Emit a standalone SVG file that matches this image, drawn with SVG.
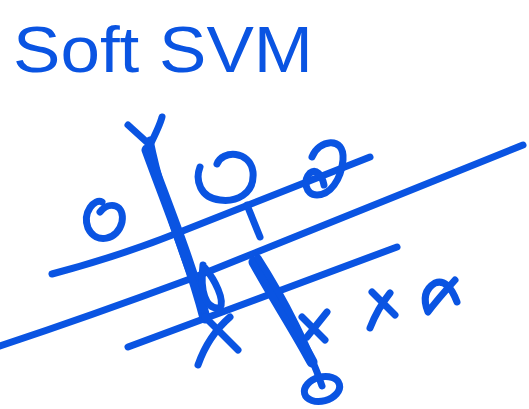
<svg xmlns="http://www.w3.org/2000/svg" width="529" height="409" viewBox="0 0 529 409">
<style>
.s{fill:none;stroke:#0a54e2;stroke-width:7;stroke-linecap:round;stroke-linejoin:round}
.t{stroke-width:11}
.title{font-family:"Liberation Sans",Arial,sans-serif;font-size:64px;fill:#0a54e2}
</style>
<rect width="529" height="409" fill="#fff"/>
<text class="title" x="13" y="72" textLength="300" lengthAdjust="spacingAndGlyphs">Soft SVM</text>
<g id="lines">
<path class="s" d="M52,274 Q120,256 180,232 L370,157"/>
<path class="s" d="M0,346 Q90,316 190,279 L523,145"/>
<path class="s" d="M128,347 L397,247"/>
<path class="s t" d="M147,150 C165,200 190,260 205,318"/>
<path class="s" d="M150,140 C160,190 180,250 208,320"/>
<path class="s" d="M247,205 L260,237"/>
<path class="s t" d="M254,262 C275,300 295,330 312,362"/>
<path class="s" d="M258,258 C285,300 310,350 322,386"/>
<path class="s" d="M203,265 C200,290 205,310 220,308 C225,300 215,280 205,268"/>
</g>
<g id="points">
<path class="s" d="M128,125 L150,145 M162,117 C160,125 155,135 150,145"/>
<path class="s" d="M198,365 C205,345 215,330 230,317 M205,317 L238,350"/>
<path class="s" d="M302,317 L325,340 M327,312 L307,337"/>
<path class="s" d="M370,328 C375,315 382,303 390,293 M372,292 L395,315"/>
<path class="s" d="M455,280 Q437,300 428,312 Q420,292 435,283 Q448,278 457,302"/>
<ellipse class="s" cx="322" cy="389" rx="18" ry="12" transform="rotate(-15 322 389)"/>
<path class="s" d="M100,212 C110,200 125,205 122,222 C118,240 96,245 88,228 C82,212 95,198 102,202"/>
<path class="s" d="M217,164 C222,150 250,150 253,172 C255,195 235,202 220,200 C200,198 195,180 200,167"/>
<path class="s" d="M312,157 C318,140 345,135 343,160 C341,180 330,195 317,195 C305,195 303,180 310,173 C316,168 322,175 324,185"/>
</g>
</svg>
